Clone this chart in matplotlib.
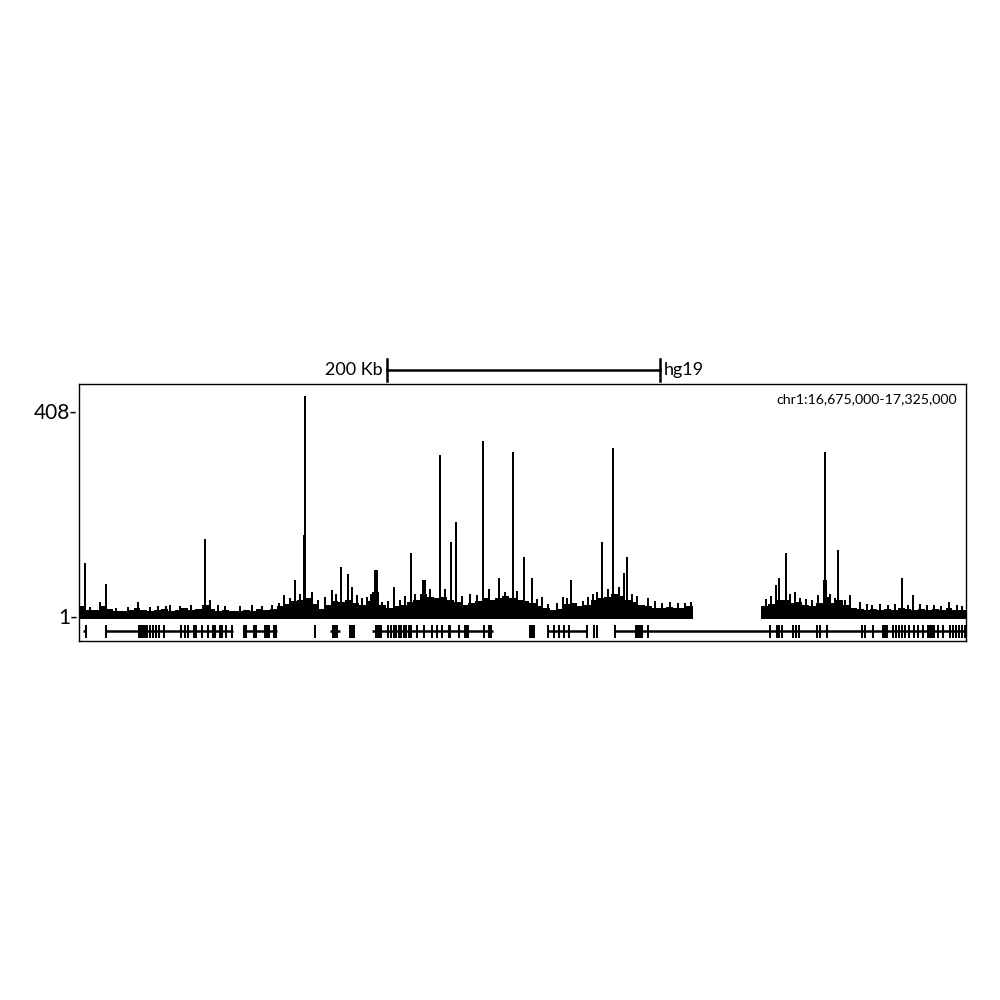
import matplotlib
matplotlib.use("Agg")
import matplotlib.pyplot as plt
import numpy as np

plt.rcParams['font.family'] = ['Lato', 'DejaVu Sans']

# region chr1:16,675,000-17,325,000, positions in kb from 16,675,000
region_label = 'chr1:16,675,000-17,325,000'
region_len = 650
y_labels = ['408-', '1-']
y_label_vals = [408, 1]

# background coverage in 5 kb bins (nan = no data)
bin_size = 5
background = [21, 13, 13, 21, 15, 11, 11, 13, 17, 13,
              11, 13, 15, 11, 13, 17, 13, 15, 23, 15,
              11, 13, 11, 11, 13, 11, 15, 13, 15, 21,
              25, 31, 33, 37, 25, 15, 23, 31, 29, 33,
              27, 23, 31, 49, 23, 17, 21, 23, 29, 33,
              45, 39, 37, 39, 33, 29, 23, 27, 31, 37,
              33, 37, 41, 37, 33, 31, 27, 21, 17, 13,
              15, 25, 27, 21, 23, 33, 37, 39, 45, 41,
              33, 29, 23, 21, 17, 17, 19, 17, 17, 21,
              np.nan, np.nan, np.nan, np.nan, np.nan,
              np.nan, np.nan, np.nan, np.nan, np.nan,
              21, 25, 33, 33, 27, 29, 23, 21, 27, 39,
              27, 33, 23, 17, 15, 13, 15, 13, 15, 13,
              17, 15, 13, 15, 13, 15, 13, 17, 13, 13]

# peaks: position (kb), height, width (kb)
peak_pos = [4.4, 15.4, 19.8, 43.2, 92.3, 150.2, 158.3, 165.6, 165.6, 170.7,
            185.4, 192.0, 197.1, 200.1, 211.0, 217.6, 230.8, 243.3, 252.8, 264.5,
            264.5, 272.6, 276.3, 291.7, 296.1, 296.1, 307.8, 318.0, 318.0, 326.1,
            332.0, 339.3, 354.7, 360.5, 379.6, 383.3, 391.3, 391.3, 399.4, 401.6,
            417.0, 448.5, 510.8, 513.0, 518.1, 524.7, 541.5, 546.7, 546.7, 546.7,
            554.0, 556.2, 565.0, 572.3, 603.1, 611.2, 637.5]
peak_val = [106, 29, 65, 29, 154, 43, 72, 438, 162, 49,
            53, 98, 84, 59, 39, 92, 59, 126, 72, 321,
            152, 148, 188, 43, 348, 188, 76, 327, 148, 118,
            76, 39, 39, 72, 49, 148, 334, 281, 86, 118,
            37, 29, 63, 76, 126, 49, 43, 327, 162, 72,
            37, 132, 43, 29, 76, 43, 29]
peak_wid = [1.1, 1.1, 1.4, 1.1, 1.1, 1.1, 1.1, 1.1, 2.2, 1.4,
            1.1, 1.1, 1.1, 1.1, 1.1, 2.5, 1.1, 1.1, 2.5, 1.1,
            1.8, 1.4, 1.1, 1.1, 1.1, 1.5, 1.4, 1.1, 1.5, 1.1,
            1.1, 1.1, 1.1, 1.1, 1.1, 1.1, 1.1, 1.5, 1.1, 1.1,
            1.1, 1.1, 1.1, 1.1, 1.1, 1.1, 1.1, 1.1, 1.5, 3.5,
            1.1, 1.5, 1.1, 1.1, 1.1, 1.1, 1.1]

# smaller bumps on top of the background: position (kb), height
bump_pos = [8.1, 27.1, 35.9, 52.0, 57.9, 63.8, 66.7, 74.0, 82.1, 96.0,
            101.9, 107.0, 118.0, 126.8, 134.1, 141.4, 146.6, 154.6, 162.0, 175.1,
            180.3, 188.3, 203.7, 207.4, 214.0, 222.0, 226.4, 235.2, 238.9, 246.2,
            257.2, 268.2, 280.7, 286.5, 300.4, 312.2, 321.0, 335.6, 343.7, 350.3,
            357.6, 369.3, 373.0, 376.7, 387.7, 395.7, 405.2, 408.9, 422.1, 427.2,
            433.1, 438.9, 444.1, 503.4, 507.1, 521.0, 528.4, 532.7, 537.1, 550.3,
            561.3, 577.4, 581.1, 587.0, 592.8, 598.0, 607.5, 616.3, 621.4, 626.5,
            631.7, 643.4, 647.1]
bump_val = [19, 17, 19, 19, 21, 21, 23, 21, 23, 33,
            23, 21, 21, 23, 21, 23, 27, 37, 45, 33,
            39, 45, 43, 37, 45, 29, 31, 33, 41, 45,
            55, 55, 41, 45, 55, 49, 51, 35, 25, 27,
            37, 31, 39, 45, 55, 59, 45, 41, 31, 27,
            29, 27, 27, 35, 41, 45, 37, 35, 33, 45,
            33, 25, 23, 25, 23, 25, 23, 25, 23, 23,
            21, 23, 21]

# gene models: spans (kb) and exons (centre kb, width kb)
gene_start = [2.9, 19.8, 120.2, 183.9, 214.7, 343.7, 392.8]
gene_end = [5.1, 112.9, 145.1, 191.3, 303.4, 372.3, 650.0]
exon_pos = [5.1,
            19.8, 44.0, 45.4, 46.9, 49.1, 52.0, 54.2, 56.4, 58.6, 62.3,
            74.7, 77.7, 79.9, 84.3, 85.7, 90.1, 94.5, 98.2, 99.7, 103.3,
            104.8, 107.7, 112.1,
            121.6, 129.0, 137.8, 143.6,
            172.9, 187.6, 198.6, 200.1, 201.5,
            219.5, 226.4, 228.6, 230.8, 232.3, 234.5, 236.0, 238.2, 239.6, 241.8,
            243.3, 247.7, 252.8, 258.7, 262.3, 266.0, 271.5, 278.5, 284.0, 296.8,
            301.2,
            330.5, 332.0, 333.4,
            343.7, 348.1, 351.7, 355.4, 359.1, 372.3,
            377.4, 379.6,
            392.8, 410.4, 417.0, 506.4, 511.5, 513.0, 515.2, 523.2, 525.4, 527.6,
            540.8, 543.0, 548.1, 573.8, 576.0, 581.8, 590.6, 596.5, 598.7, 600.9,
            603.1, 605.3, 608.2, 611.9, 614.8, 618.5, 624.3, 629.5, 633.1, 638.3,
            640.5, 642.7, 644.9, 647.1, 649.2]
exon_wid = [1.0,
            1.0, 0.9, 0.9, 0.9, 2.8, 1.2, 0.9, 1.4, 1.2, 1.2,
            0.9, 0.9, 0.9, 0.9, 0.9, 0.9, 0.9, 0.9, 0.9, 0.9,
            0.9, 0.9, 0.9,
            2.8, 2.8, 3.8, 2.8,
            0.9, 3.8, 0.9, 0.9, 0.9,
            4.8, 1.0, 1.0, 1.0, 1.0, 1.0, 1.0, 1.0, 1.0, 1.0,
            1.0, 1.0, 1.4, 1.0, 1.0, 1.0, 2.2, 1.4, 4.2, 1.4,
            3.0,
            0.9, 0.9, 0.9,
            1.0, 1.0, 1.0, 1.4, 1.4, 1.0,
            0.9, 0.9,
            1.0, 5.5, 1.0, 1.0, 0.9, 0.9, 0.9, 1.4, 1.4, 1.0,
            1.0, 1.0, 1.0, 1.4, 1.4, 1.4, 3.8, 1.6, 1.4, 1.4,
            1.4, 1.4, 1.6, 1.4, 1.4, 1.4, 5.5, 1.4, 1.4, 1.4,
            1.4, 1.4, 1.4, 1.4, 1.4]

fig = plt.figure(figsize=(10, 10), dpi=100)
ax = fig.add_axes([0.079, 0.359, 0.887, 0.257])

# coverage track
base = -4
bg = np.array(background, dtype=float)
edges = np.arange(len(bg) + 1) * bin_size
bg_step = np.append(bg, bg[-1])
has = ~np.isnan(bg_step)
ax.fill_between(edges, base, np.nan_to_num(bg_step, nan=base), step='post',
                where=has | np.roll(has, 1), color='black', linewidth=0)
ax.bar(bump_pos, np.array(bump_val) - base, width=1.6, bottom=base,
       color='black', linewidth=0)
ax.bar(peak_pos, np.array(peak_val) - base, width=peak_wid, bottom=base,
       color='black', linewidth=0)

# gene track
gene_y = -29
ax.hlines([gene_y] * len(gene_start), gene_start, gene_end, color='black', lw=1.8)
ax.bar(exon_pos, 26, width=exon_wid, bottom=gene_y - 13, color='black', linewidth=0)

ax.set_xlim(0, region_len)
ax.set_ylim(-48.6, 461.5)
ax.set_xticks([])
ax.set_yticks(y_label_vals)
ax.set_yticklabels(y_labels, fontsize=15)
ax.tick_params(axis='y', length=0, pad=1)
for s in ax.spines.values():
    s.set_linewidth(1.0)

ax.text(0.99, 0.965, region_label, transform=ax.transAxes, ha='right', va='top',
        fontsize=10.2)

# scale bar 200 Kb
sb_start, sb_end, sb_y = 225.7, 425.7, 489
ax.plot([sb_start, sb_end], [sb_y, sb_y], color='black', lw=1.8, clip_on=False)
ax.plot([sb_start, sb_start], [467, 511], color='black', lw=1.8, clip_on=False)
ax.plot([sb_end, sb_end], [467, 511], color='black', lw=1.8, clip_on=False)
ax.text(sb_start - 3, sb_y, '200 Kb', ha='right', va='center', fontsize=13)
ax.text(sb_end + 3, sb_y, 'hg19', ha='left', va='center', fontsize=13)

fig.savefig('out.png', dpi=100)
